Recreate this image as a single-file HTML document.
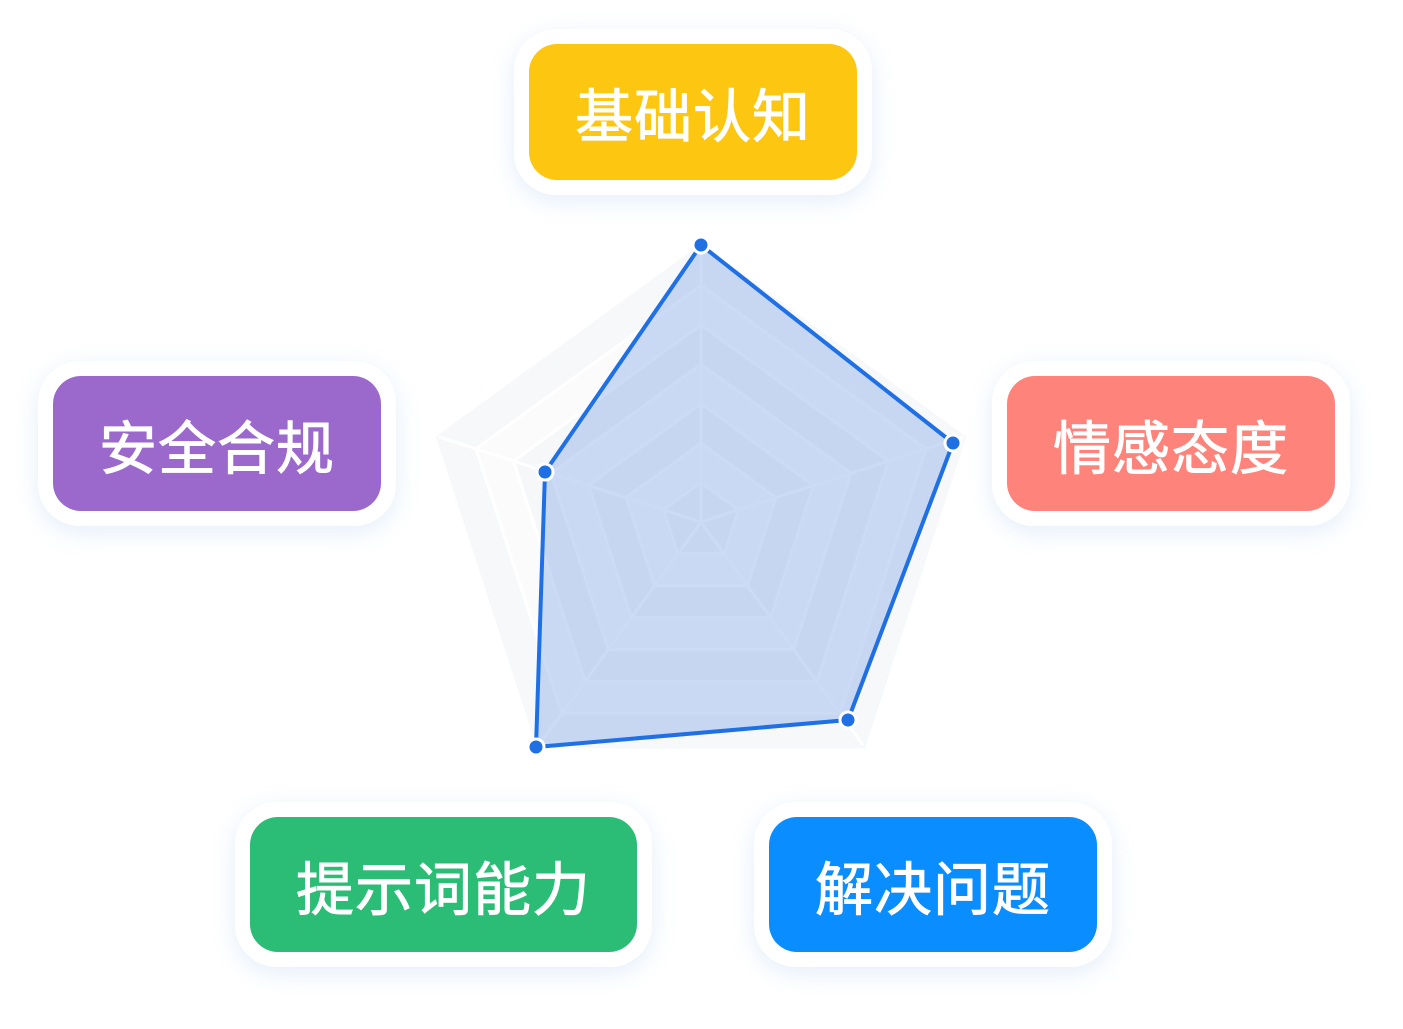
<!DOCTYPE html>
<html><head><meta charset="utf-8"><style>
html,body{margin:0;padding:0;background:#fff;}
body{width:1403px;height:1029px;position:relative;overflow:hidden;font-family:"Liberation Sans","Noto Sans CJK SC",sans-serif;}
.b{position:absolute;box-sizing:border-box;border:15px solid #fff;border-radius:42px;box-shadow:0 6px 24px rgba(120,170,230,0.2);}
.b div{width:100%;height:100%;border-radius:28px;color:#fff;font-size:58px;font-weight:normal;-webkit-text-stroke:0.9px #fff;display:flex;align-items:center;justify-content:center;letter-spacing:1px;}
svg{position:absolute;left:0;top:0;}
</style></head><body>
<svg width="1403" height="1029">
<g stroke="#fff" stroke-width="3">
<polygon points="701,242 968,436 866,750 536,750 434,436" fill="#f7f8fa"/>
<polygon points="701,285.4 926,448.9 840.1,713.4 561.9,713.4 476,448.9" fill="#fbfbfc"/>
<polygon points="701,324.9 888.5,461.1 816.9,681.5 585.1,681.5 513.5,461.1" fill="#f6f7f9"/>
<polygon points="701,364.3 851,473.3 793.7,649.6 608.3,649.6 551,473.3" fill="#fbfbfc"/>
<polygon points="701,403.7 813.5,485.4 770.5,617.7 631.5,617.7 588.5,485.4" fill="#f6f7f9"/>
<polygon points="701,443.1 776,497.6 747.4,585.8 654.6,585.8 626,497.6" fill="#fbfbfc"/>
<polygon points="701,482.6 738.5,509.8 724.2,553.9 677.8,553.9 663.5,509.8" fill="#f6f7f9"/>
<line x1="701" y1="522" x2="701" y2="246"/>
<line x1="701" y1="522" x2="963.5" y2="436.7"/>
<line x1="701" y1="522" x2="863.2" y2="745.3"/>
<line x1="701" y1="522" x2="538.8" y2="745.3"/>
<line x1="701" y1="522" x2="438.5" y2="436.7"/>
</g>
<polygon points="701,245 953,443 848,720 536,747 545,472" fill="rgba(120,160,230,0.38)" stroke="#1f6fe5" stroke-width="4" stroke-linejoin="round"/>
<g fill="#1f6fe5" stroke="#fff" stroke-width="3">
<circle cx="701" cy="245" r="8"/><circle cx="953" cy="443" r="8"/><circle cx="848" cy="720" r="8"/><circle cx="536" cy="747" r="8"/><circle cx="545" cy="472" r="8"/>
</g>
</svg>
<div class="b" style="left:514px;top:29px;width:358px;height:166px;"><div style="background:#fdc611">基础认知</div></div>
<div class="b" style="left:38px;top:361px;width:358px;height:165px;"><div style="background:#9b69cc">安全合规</div></div>
<div class="b" style="left:992px;top:361px;width:358px;height:165px;"><div style="background:#fd837b">情感态度</div></div>
<div class="b" style="left:235px;top:802px;width:417px;height:165px;"><div style="background:#2bbd75">提示词能力</div></div>
<div class="b" style="left:754px;top:802px;width:358px;height:165px;"><div style="background:#0a8dfe">解决问题</div></div>
</body></html>
